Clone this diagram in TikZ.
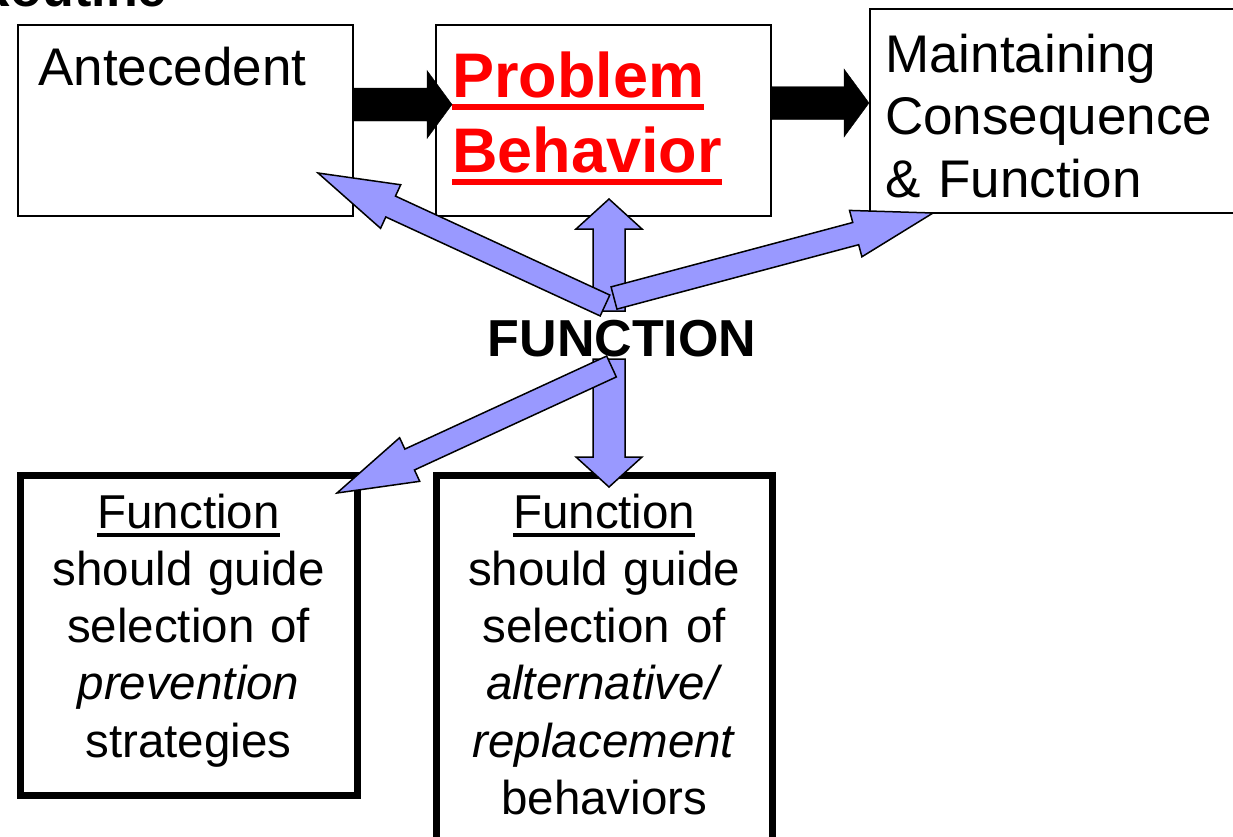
\documentclass[tikz,border=0pt]{standalone}
\usepackage{fontspec}
\setmainfont{Liberation Sans}
\usetikzlibrary{positioning,calc}

\definecolor{funcblue}{HTML}{9999FF}
\definecolor{pbred}{HTML}{FF0000}

% thick underline: depth, thickness, text
\newcommand{\thickul}[3]{\leavevmode\setbox0=\hbox{#3}\rlap{\rule[-#1]{\wd0}{#2}}\box0}

% block arrow: style, from, to, half shaft, half head, head length
\newcommand{\blockarrow}[6]{%
  \coordinate (ba-base) at ($(#3)!#6!(#2)$);
  \draw[#1] ($(#2)!#4!90:(#3)$) -- ($(ba-base)!#4!-90:(#2)$)
    -- ($(ba-base)!#5!-90:(#2)$) -- (#3) -- ($(ba-base)!#5!90:(#2)$)
    -- ($(ba-base)!#4!90:(#2)$) -- ($(#2)!#4!-90:(#3)$) -- cycle;}

\tikzset{
  topbox/.style={draw, line width=2pt, inner sep=0pt, minimum width=335pt, minimum height=191pt},
  lowbox/.style={draw, line width=7pt, inner sep=0pt, minimum width=337pt},
  toptext/.style={inner sep=0pt, text width=400pt, align=left, font=\fontsize{53}{62.5}\selectfont},
  lowtext/.style={inner sep=0pt, text width=330pt, align=center, font=\fontsize{47.5}{57.3}\selectfont},
  blackarrow/.style={fill=black},
  bluearrow/.style={draw=black, line width=1.5pt, fill=funcblue},
}

\begin{document}
\begin{tikzpicture}[x=1pt, y=-1pt]
  \useasboundingbox (0,0) rectangle (1233,836);

  \node[anchor=base east, inner sep=0pt, font=\bfseries\fontsize{52}{60}\selectfont] (routine) at (167,6) {Routine};

  % top row
  \node[topbox, anchor=north west] (ante) at (17,24) {};
  \node[topbox, right=81pt of ante] (pb) {};
  \node[topbox, minimum width=380pt, minimum height=204pt, right=97pt of pb.south east, anchor=south west, yshift=3pt] (maint) {};

  \node[toptext, anchor=base west] (antetxt) at ([shift={(21,61)}]ante.north west) {Antecedent};
  \node[toptext, anchor=base west, text=pbred, font=\bfseries\fontsize{63}{75}\selectfont] (pbtxt) at ([shift={(17,73)}]pb.north west)
    {\thickul{13pt}{6pt}{Problem}\\ \thickul{13pt}{6pt}{Behavior}};
  \node[toptext, anchor=base west] (mainttxt) at ([shift={(16,64)}]maint.north west) {Maintaining\\ Consequence\\ \& Function};

  % bottom row
  \node[lowbox, minimum height=319.5pt, anchor=north west] (prev) at (16.5,472) {};
  \node[lowbox, minimum width=336.5pt, minimum height=388pt, anchor=north west] (alt) at (432.5,472) {};

  \node[lowtext, anchor=base] (prevtxt) at ([shift={(0,56)}]prev.north)
    {\thickul{9pt}{4.5pt}{Function}\\ should guide\\ selection of\\ \textit{prevention}\\ strategies};
  \node[lowtext, anchor=base] (alttxt) at ([shift={(0,56)}]alt.north)
    {\thickul{9pt}{4.5pt}{Function}\\ should guide\\ selection of\\ \textit{alternative/}\\ \textit{replacement}\\ behaviors};

  % black arrows
  \coordinate (ab-tail) at ([yshift=16pt]ante.east);
  \coordinate (ab-tip) at ([xshift=17pt]ab-tail -| pb.west);
  \coordinate (bm-tail) at ([yshift=17.5pt]pb.east);
  \coordinate (bm-tip) at (bm-tail -| maint.west);
  \blockarrow{blackarrow}{ab-tail}{ab-tip}{16.5pt}{34pt}{25pt}
  \blockarrow{blackarrow}{bm-tail}{bm-tip}{16.5pt}{34pt}{25pt}

  \node[anchor=base, inner sep=0pt, font=\bfseries\fontsize{52}{60}\selectfont] (func) at (622,356) {FUNCTION};

  % blue arrows
  \coordinate (up-tail) at (609,311);
  \coordinate (up-tip) at (609,199);
  \coordinate (ante-tail) at (605,305.5);
  \coordinate (ante-tip) at (318,173);
  \coordinate (cons-tail) at (614,298);
  \coordinate (cons-tip) at (933,213);
  \coordinate (down-tail) at (609,359);
  \coordinate (down-tip) at (609,487);
  \coordinate (prev-tail) at (611.5,366.5);
  \coordinate (prev-tip) at (337,493);

  \blockarrow{bluearrow}{up-tail}{up-tip}{16pt}{33pt}{30pt}
  \blockarrow{bluearrow}{ante-tail}{ante-tip}{11.5pt}{24pt}{80pt}
  \blockarrow{bluearrow}{cons-tail}{cons-tip}{11.5pt}{24pt}{80pt}
  \blockarrow{bluearrow}{down-tail}{down-tip}{16pt}{33pt}{30pt}
  \blockarrow{bluearrow}{prev-tail}{prev-tip}{11.5pt}{24pt}{80pt}
\end{tikzpicture}
\end{document}
